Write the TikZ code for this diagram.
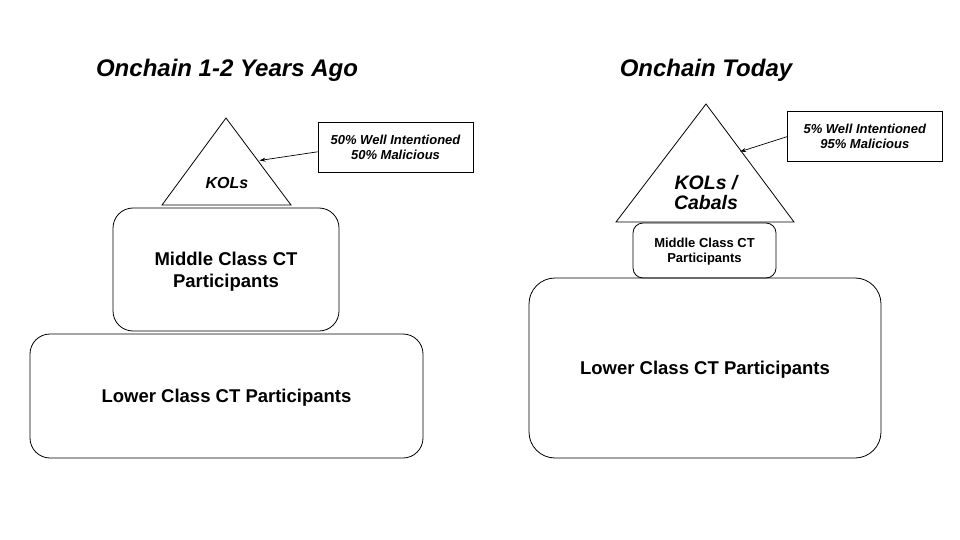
\documentclass[tikz,border=0pt]{standalone}
\usepackage{fontspec}
\setmainfont{Liberation Sans}
\usetikzlibrary{arrows.meta}
\begin{document}
\begin{tikzpicture}[x=1pt,y=-1pt,line width=0.8pt,
  title/.style={font=\fontsize{24}{29}\selectfont\bfseries\itshape,inner sep=0pt,anchor=base},
  rbox/.style={draw,rounded corners=#1,align=center,inner sep=0pt,text depth=0pt,font=\fontsize{18.5}{22}\selectfont\bfseries},
  small/.style={font=\fontsize{13}{15}\selectfont\bfseries},
  callout/.style={draw,align=center,inner sep=0pt,minimum width=155pt,minimum height=50pt,font=\fontsize{13}{15}\selectfont\bfseries\itshape},
  tri/.style={draw,line join=miter},
  pointer/.style={-{Stealth[length=6pt,width=4pt]},line width=0.7pt}]
\useasboundingbox (0,0) rectangle (960,540);
\fill[white] (0,0) rectangle (960,540);

% ---------- Left ----------
\node[title] (t1) at (227,77) {Onchain 1-2 Years Ago};

\coordinate (la) at (226,118);
\coordinate (lbl) at (162,205);
\coordinate (lbr) at (291,205);
\draw[tri] (la) -- (lbl) -- (lbr) -- cycle;
\node[font=\fontsize{16}{19}\selectfont\bfseries\itshape,inner sep=0pt,anchor=base] (lk) at (227,188.5) {KOLs};

\node[callout] (lc) at (395.5,147.3) {50\% Well Intentioned\\50\% Malicious};
\coordinate (lcs) at ([yshift=-4.5pt]lc.west);
\coordinate (lce) at (259.5,160.5);
\draw[pointer] (lcs) -- (lce);

\node[rbox=20pt,minimum width=226pt,minimum height=123pt] (lm) at (226,269.5) {Middle Class CT\\Participants};
\node[rbox=20pt,minimum width=393pt,minimum height=124pt] (ll) at (226.5,396) {Lower Class CT Participants};

% ---------- Right ----------
\node[title] (t2) at (706,77) {Onchain Today};

\coordinate (ra) at (706,104);
\coordinate (rbl) at (616,222);
\coordinate (rbr) at (794,222);
\draw[tri] (ra) -- (rbl) -- (rbr) -- cycle;
\node[font=\fontsize{19.5}{20}\selectfont\bfseries\itshape,align=center,inner sep=0pt] (rk) at (706,193) {KOLs /\\Cabals};

\node[callout] (rc) at (864.8,136) {5\% Well Intentioned\\95\% Malicious};
\coordinate (rcs) at ([yshift=-0.7pt]rc.west);
\coordinate (rce) at (740,151.7);
\draw[pointer] (rcs) -- (rce);

\node[rbox=10pt,small,minimum width=143pt,minimum height=55pt] (rm) at (704.5,250.5) {Middle Class CT\\Participants};
\node[rbox=26pt,minimum width=352pt,minimum height=180pt] (rl) at (705,368) {Lower Class CT Participants};
\end{tikzpicture}
\end{document}
